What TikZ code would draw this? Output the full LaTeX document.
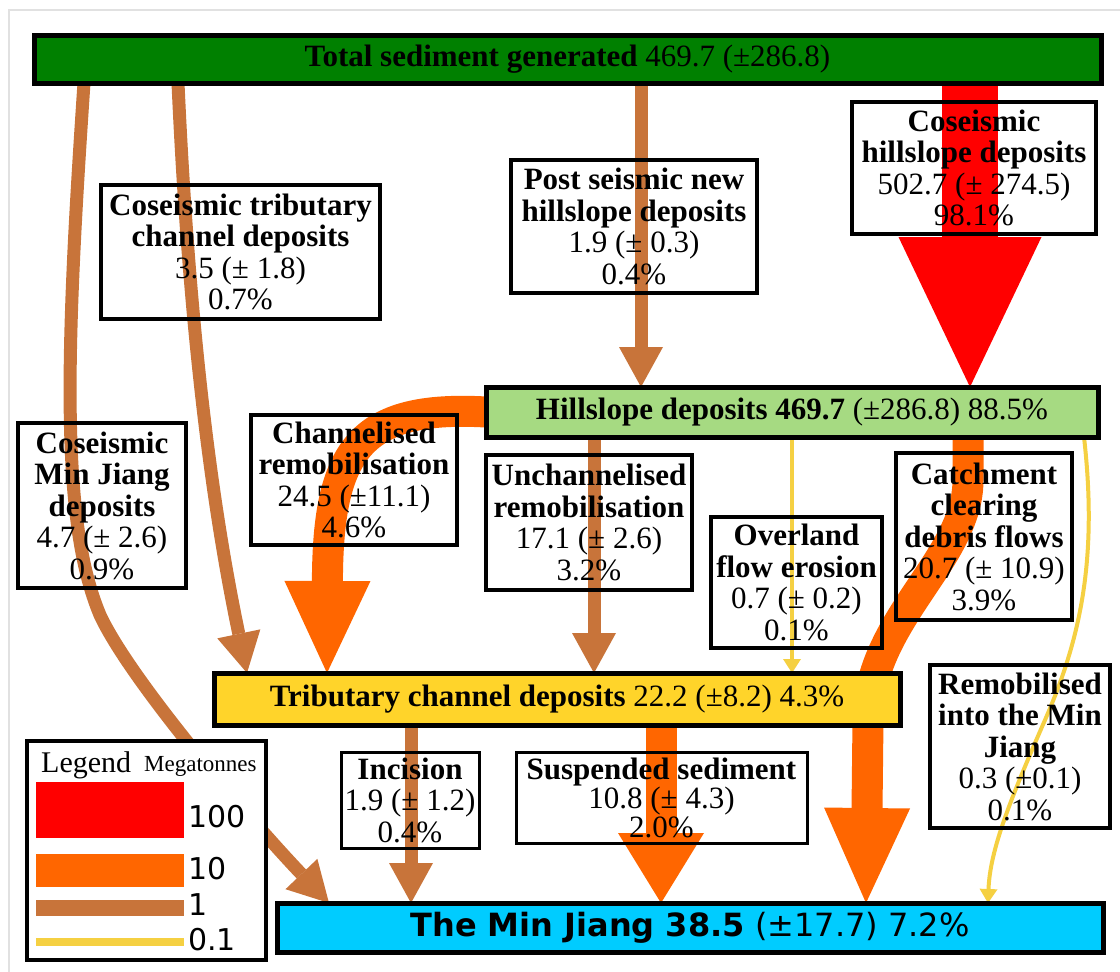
\documentclass[tikz,border=0pt]{standalone}
\usepackage{fontspec}
\setmainfont{Liberation Serif}
\newfontfamily\dejavu{DejaVu Sans}
\usetikzlibrary{arrows.meta}
\pgfdeclarelayer{bg}
\pgfsetlayers{bg,main}
\definecolor{cBrown}{RGB}{200,116,58}
\definecolor{cOrange}{RGB}{255,102,0}
\definecolor{cRed}{RGB}{255,0,0}
\definecolor{cYellowLine}{RGB}{245,208,66}
\definecolor{cTrib}{RGB}{255,212,42}
\definecolor{cHill}{RGB}{166,218,130}
\definecolor{cTotal}{RGB}{0,128,0}
\definecolor{cMin}{RGB}{0,204,255}
\definecolor{cFrame}{RGB}{225,225,225}
\begin{document}
\begin{tikzpicture}[x=1pt,y=-1pt,
  txt/.style={font=\fontsize{31}{31.5}\selectfont, align=center, inner sep=0pt, outer sep=0pt},
  infobox/.style={txt, draw=black, line width=3.5pt},
  bar/.style={txt, draw=black, line width=5pt},
  brownflow/.style={draw=cBrown, line width=13pt, -{Triangle[width=44pt,length=40pt,line width=0pt]}},
  orangeflow/.style={draw=cOrange, line width=31pt, -{Triangle[width=86pt,length=#1,line width=0pt]}},
  orangeflow/.default=92pt,
  redflow/.style={draw=cRed, line width=56pt, -{Triangle[width=143pt,length=150pt,line width=0pt]}},
  yellowflow/.style={draw=cYellowLine, line width=4pt, -{Triangle[width=18pt,length=14pt,line width=0pt]}},
  legnum/.style={anchor=west, inner sep=0pt, font=\dejavu\fontsize{30}{30}\selectfont}
]
\useasboundingbox (0,0) rectangle (1120,972);

% main nodes
\node[bar, fill=cTotal, minimum width=1067pt, minimum height=48pt] (total) at (567.5,59) {\textbf{Total sediment generated} 469.7 (±286.8)};
\node[infobox, minimum width=244pt, minimum height=132pt] (cohill) at (974,168) {\textbf{Coseismic}\\\textbf{hillslope deposits}\\502.7 (± 274.5)\\98.1\%};
\node[infobox, minimum width=246pt, minimum height=133pt] (post) at (634,226.5) {\textbf{Post seismic new}\\\textbf{hillslope deposits}\\1.9 (± 0.3)\\0.4\%};
\node[infobox, minimum width=279pt, minimum height=134pt] (cotrib) at (240.5,252) {\textbf{Coseismic tributary}\\\textbf{channel deposits}\\3.5 (± 1.8)\\0.7\%};
\node[bar, fill=cHill, minimum width=612pt, minimum height=50pt] (hill) at (792,412) {\textbf{Hillslope deposits 469.7} (±286.8) 88.5\%};
\node[infobox, minimum width=168pt, minimum height=165pt] (comj) at (102,505.5) {\textbf{Coseismic}\\\textbf{Min Jiang}\\\textbf{deposits}\\4.7 (± 2.6)\\0.9\%};
\node[infobox, minimum width=206pt, minimum height=130pt] (chan) at (354,480) {\textbf{Channelised}\\\textbf{remobilisation}\\24.5 (±11.1)\\4.6\%};
\node[infobox, minimum width=206pt, minimum height=135pt] (unchan) at (589,522.5) {\textbf{Unchannelised}\\\textbf{remobilisation}\\17.1 (± 2.6)\\3.2\%};
\node[infobox, minimum width=171pt, minimum height=131pt] (overland) at (796.5,582.5) {\textbf{Overland}\\\textbf{flow erosion}\\0.7 (± 0.2)\\0.1\%};
\node[infobox, minimum width=176pt, minimum height=167pt] (catch) at (984,536.5) {\textbf{Catchment}\\\textbf{clearing}\\\textbf{debris flows}\\20.7 (± 10.9)\\3.9\%};
\node[bar, fill=cTrib, minimum width=686pt, minimum height=52pt] (trib) at (557,699) {\textbf{Tributary channel deposits} 22.2 (±8.2) 4.3\%};
\node[infobox, minimum width=180pt, minimum height=163pt] (remob) at (1020,746.5) {\textbf{Remobilised}\\\textbf{into the Min}\\\textbf{Jiang}\\0.3 (±0.1)\\0.1\%};
\node[infobox, line width=3pt, minimum width=138pt, minimum height=96pt] (incision) at (410,800) {\textbf{Incision}\\1.9 (± 1.2)\\0.4\%};
\node[infobox, line width=3pt, minimum width=291pt, minimum height=91pt] (susp) at (661.5,797.5) {\textbf{Suspended sediment}\\[-2.5pt]10.8 (± 4.3)\\[-2.5pt]2.0\%};
\node[bar, fill=cMin, minimum width=826pt, minimum height=49pt, font=\dejavu\fontsize{32}{32}\selectfont] (minj) at (690,927.5) {\textbf{The Min Jiang 38.5} (±17.7) 7.2\%};

% legend
\node[draw=black, line width=3.5pt, fill=white, minimum width=239pt, minimum height=219pt, inner sep=0pt] (legend) at (146.5,850.5) {};
\node[anchor=base west, inner sep=0pt, font=\fontsize{30}{30}\selectfont] (legtitle) at (41,772) {Legend};
\node[anchor=base west, inner sep=0pt, font=\fontsize{23}{23}\selectfont] (legunit) at (144,771) {Megatonnes};
\fill[cRed] (36,782) rectangle (184,838);
\fill[cOrange] (36,854) rectangle (184,887);
\fill[cBrown] (36,900) rectangle (184,916);
\fill[cYellowLine] (36,938) rectangle (184,946);
\node[legnum] (l100) at (188,817) {100};
\node[legnum] (l10) at (188,869) {10};
\node[legnum] (l1) at (188,905) {1};
\node[legnum] (l01) at (188,940) {0.1};

\begin{pgfonlayer}{bg}
\draw[cFrame, line width=1.5pt] (9,972) -- (9,10) -- (1120,10);
% coseismic Min Jiang deposits
\draw[brownflow] ([xshift=-483.5pt]total.south) .. controls (66,350) and (60,520) .. (100,615) .. controls (130,680) and (250,820) .. ([xshift=-361pt]minj.north);
% coseismic tributary
\draw[brownflow] ([xshift=-389.5pt]total.south) .. controls (190,350) and (215,520) .. ([xshift=-310pt]trib.north);
% post seismic
\draw[brownflow] ([xshift=73.5pt]total.south) -- ([xshift=-151pt]hill.north);
% coseismic hillslope
\draw[redflow] ([xshift=402.5pt]total.south) -- ([xshift=178pt]hill.north);
% channelised
\draw[orangeflow] (hill.west) .. controls (360,405) and (328,450) .. ([xshift=-230pt]trib.north);
% unchannelised
\draw[brownflow] ([xshift=-198pt]hill.south) -- ([xshift=37pt]trib.north);
% overland
\draw[yellowflow] (hill.south) -- ([xshift=235pt]trib.north);
% catchment clearing
\draw[orangeflow=95pt] ([xshift=176pt]hill.south) -- (968,480) .. controls (968,560) and (868,620) .. (868,720) -- ([xshift=176pt]minj.north);
% remobilised
\draw[yellowflow] ([xshift=292pt]hill.south) .. controls (1098,560) and (1080,640) .. (1045,720) .. controls (1010,800) and (990,850) .. ([xshift=298pt]minj.north);
% suspended
\draw[orangeflow=70pt] ([xshift=104pt]trib.south) -- ([xshift=-29pt]minj.north);
% incision
\draw[brownflow] ([xshift=-146pt]trib.south) -- ([xshift=-279pt]minj.north);
\end{pgfonlayer}
\end{tikzpicture}
\end{document}
